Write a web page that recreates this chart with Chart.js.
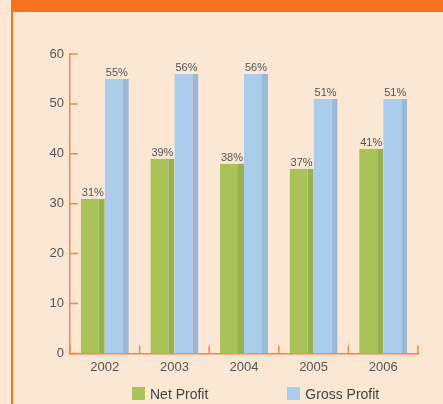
<!DOCTYPE html>
<html>
<head>
<meta charset="utf-8">
<script src="https://cdn.jsdelivr.net/npm/chart.js@4.4.0/dist/chart.umd.min.js"></script>
<style>
  html, body { margin: 0; padding: 0; }
  body {
    width: 443px; height: 404px; overflow: hidden; position: relative;
    background: #fce6d4;
    font-family: "Liberation Sans", Arial, sans-serif;
  }
  #panel {
    position: absolute; left: 11px; top: 0; width: 430px; height: 392px;
    background: #fce6d4;
    border-left: 2px solid #f47321;
    border-top: 12px solid #f47321;
  }
  #wrap { position: absolute; left: 0; top: 0; width: 443px; height: 404px; }
  #legend { position: absolute; left: 132px; top: 387px; display: flex; gap: 79px; }
  .item { display: flex; align-items: center; height: 13px; font-size: 14px; color: #444; }
  .box { width: 13px; height: 13px; margin-right: 5px; }
</style>
</head>
<body>
<div id="panel"></div>
<div id="wrap"><canvas id="profitChart"></canvas></div>
<div id="legend"></div>
<script>
// chart data
const years = ["2002", "2003", "2004", "2005", "2006"];
const netProfit = [31, 39, 38, 37, 41];
const grossProfit = [55, 56, 56, 51, 51];
const yTicks = [0, 10, 20, 30, 40, 50, 60];

const axisColor = "#f5874a";

// short tick marks drawn inside the axes
const axisTicks = {
  id: "axisTicks",
  afterDraw(chart) {
    const { ctx, chartArea, scales: { x, y } } = chart;
    ctx.save();
    ctx.strokeStyle = axisColor;
    ctx.lineWidth = 1.5;
    ctx.beginPath();
    y.ticks.forEach((t, i) => {
      const py = y.getPixelForTick(i);
      ctx.moveTo(chartArea.left, py);
      ctx.lineTo(chartArea.left + 8, py);
    });
    const half = (x.getPixelForTick(1) - x.getPixelForTick(0)) / 2;
    for (let i = 0; i <= years.length; i++) {
      const px = i < years.length ? x.getPixelForTick(i) - half : x.getPixelForTick(i - 1) + half;
      ctx.moveTo(px, chartArea.bottom);
      ctx.lineTo(px, chartArea.bottom - 8);
    }
    ctx.stroke();
    ctx.restore();
  },
};

// percentage labels above the bars
const barLabels = {
  id: "barLabels",
  afterDatasetsDraw(chart) {
    const { ctx } = chart;
    ctx.save();
    ctx.font = "11px 'Liberation Sans', Arial, sans-serif";
    ctx.fillStyle = "#555";
    ctx.textAlign = "center";
    ctx.textBaseline = "alphabetic";
    chart.data.datasets.forEach((ds, di) => {
      chart.getDatasetMeta(di).data.forEach((bar, i) => {
        ctx.fillText(ds.data[i] + "%", bar.x, bar.y - 3);
      });
    });
    ctx.restore();
  },
};

document.addEventListener("DOMContentLoaded", () => {
  const ctx = document.getElementById("profitChart").getContext("2d");
  const chart = new Chart(ctx, {
    type: "bar",
    data: {
      labels: years,
      datasets: [
        {
          label: "Net Profit",
          data: netProfit,
          backgroundColor: "#a9c35a",
          borderColor: "#98b14e",
          borderWidth: { top: 0, right: 6, bottom: 0, left: 0 },
          borderSkipped: false,
          inflateAmount: 0,
        },
        {
          label: "Gross Profit",
          data: grossProfit,
          backgroundColor: "#abcdec",
          borderColor: "#9bb9d6",
          borderWidth: { top: 0, right: 6, bottom: 0, left: 0 },
          borderSkipped: false,
          inflateAmount: 0,
        },
      ],
    },
    options: {
      responsive: true,
      maintainAspectRatio: false,
      animation: false,
      categoryPercentage: 0.69,
      barPercentage: 1,
      layout: { padding: { top: 54, right: 25, bottom: 23, left: 0 } },
      scales: {
        x: {
          grid: { display: false, drawTicks: false },
          border: { display: true, color: axisColor, width: 1.5 },
          ticks: {
            color: "#555",
            padding: 6,
            font: { family: "'Liberation Sans', Arial, sans-serif", size: 13 },
          },
        },
        y: {
          min: yTicks[0],
          max: yTicks[yTicks.length - 1],
          afterFit: (scale) => { scale.width = 70; },
          grid: { display: false, drawTicks: false },
          border: { display: true, color: axisColor, width: 1.5 },
          ticks: {
            stepSize: yTicks[1] - yTicks[0],
            color: "#555",
            padding: 6,
            font: { family: "'Liberation Sans', Arial, sans-serif", size: 13 },
          },
        },
      },
      plugins: {
        legend: { display: false },
        tooltip: { enabled: false },
      },
    },
    plugins: [axisTicks, barLabels],
  });

  // legend below the chart
  const legend = document.getElementById("legend");
  Chart.defaults.plugins.legend.labels.generateLabels(chart).forEach((item) => {
    const div = document.createElement("div");
    div.className = "item";
    div.innerHTML = `<span class="box" style="background:${item.fillStyle}"></span><span>${item.text}</span>`;
    legend.appendChild(div);
  });
});
</script>
</body>
</html>
